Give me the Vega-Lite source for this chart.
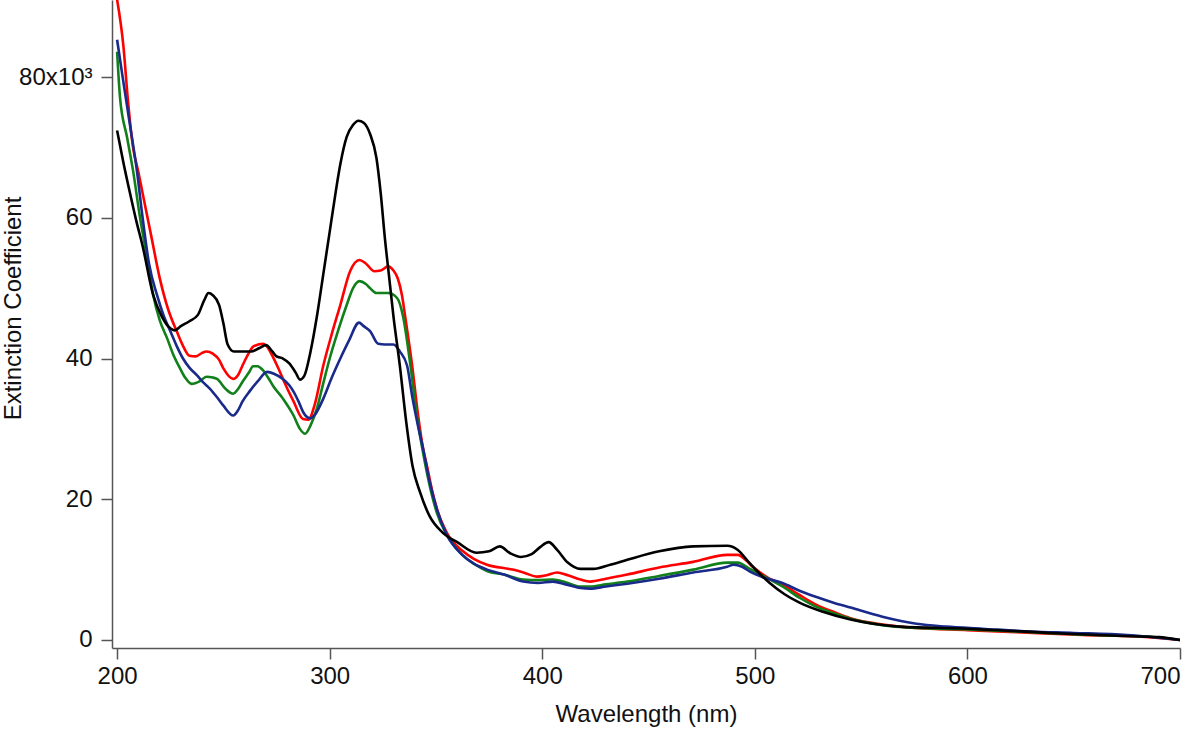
{
  "$schema": "https://vega.github.io/schema/vega-lite/v6.json",
  "width": 1068,
  "height": 648,
  "autosize": "none",
  "padding": {"left": 112, "top": 0, "right": 20, "bottom": 88},
  "background": "white",
  "config": {
    "font": "Liberation Sans",
    "view": {"stroke": null},
    "axis": {
      "grid": false,
      "domainColor": "#555555",
      "domainWidth": 1.5,
      "tickColor": "#555555",
      "tickWidth": 1.5,
      "tickSize": 11,
      "labelColor": "#111111",
      "labelFontSize": 24,
      "labelFont": "Liberation Sans",
      "titleFont": "Liberation Sans",
      "titleFontSize": 24,
      "titleFontWeight": "normal",
      "titleColor": "#111111"
    }
  },
  "datasets": {
    "black": [
      {"wl":200,"e":72400},{"wl":203,"e":67800},{"wl":206,"e":63600},{"wl":209,"e":59600},{"wl":212,"e":56000},
      {"wl":217,"e":49000},{"wl":221,"e":46000},{"wl":225,"e":44300},{"wl":227,"e":44000},{"wl":230,"e":44600},
      {"wl":234,"e":45300},{"wl":238,"e":46200},{"wl":241,"e":48300},{"wl":243,"e":49300},{"wl":245,"e":49000},
      {"wl":248,"e":47600},{"wl":250,"e":45000},{"wl":252,"e":42000},{"wl":255,"e":41000},{"wl":260,"e":41000},
      {"wl":263,"e":41000},{"wl":267,"e":41500},{"wl":270,"e":41900},{"wl":273,"e":41000},{"wl":275,"e":40300},
      {"wl":278,"e":40000},{"wl":281,"e":39300},{"wl":284,"e":38000},{"wl":286,"e":37000},{"wl":288,"e":37500},
      {"wl":291,"e":41000},{"wl":294,"e":46000},{"wl":297,"e":52000},{"wl":300,"e":58000},{"wl":303,"e":64000},
      {"wl":305,"e":67600},{"wl":308,"e":71500},{"wl":311,"e":73200},{"wl":313.5,"e":73800},{"wl":316,"e":73500},
      {"wl":319,"e":71900},{"wl":322,"e":68500},{"wl":324,"e":63500},{"wl":326,"e":57000},{"wl":328,"e":51500},
      {"wl":330,"e":46000},{"wl":333,"e":39000},{"wl":336,"e":31000},{"wl":339,"e":24700},{"wl":342.5,"e":21000},
      {"wl":347,"e":17600},{"wl":353,"e":15300},{"wl":360,"e":13900},{"wl":369,"e":12400},{"wl":375,"e":12600},
      {"wl":380,"e":13300},{"wl":385,"e":12300},{"wl":390,"e":11800},{"wl":395,"e":12200},{"wl":399,"e":13200},
      {"wl":403,"e":13900},{"wl":407,"e":12800},{"wl":412,"e":11000},{"wl":418,"e":10100},{"wl":424,"e":10100},
      {"wl":432,"e":10700},{"wl":440,"e":11400},{"wl":455,"e":12600},{"wl":471,"e":13300},{"wl":487,"e":13400},
      {"wl":492,"e":12800},{"wl":497,"e":11100},{"wl":501,"e":9800},{"wl":507,"e":8100},{"wl":514,"e":6500},
      {"wl":521,"e":5300},{"wl":532,"e":4000},{"wl":545,"e":2900},{"wl":568,"e":1900},{"wl":600,"e":1600},
      {"wl":639,"e":1000},{"wl":670,"e":600},{"wl":690,"e":400},{"wl":700,"e":0}
    ],
    "red": [
      {"wl":200,"e":91000},{"wl":203,"e":84300},{"wl":205,"e":77000},{"wl":207.5,"e":70000},{"wl":210,"e":66500},
      {"wl":212,"e":63500},{"wl":216,"e":57500},{"wl":220,"e":51500},{"wl":224,"e":47000},{"wl":228,"e":43900},
      {"wl":231,"e":41800},{"wl":234,"e":40400},{"wl":237,"e":40300},{"wl":240,"e":40800},{"wl":242,"e":41000},
      {"wl":245,"e":40700},{"wl":248,"e":39800},{"wl":250,"e":38600},{"wl":254.6,"e":37100},{"wl":257,"e":37700},
      {"wl":259,"e":39000},{"wl":262,"e":40800},{"wl":264,"e":41700},{"wl":268.7,"e":42100},{"wl":271,"e":41500},
      {"wl":273,"e":40400},{"wl":276,"e":38500},{"wl":278,"e":37100},{"wl":283,"e":33900},{"wl":287.5,"e":31400},
      {"wl":290,"e":31300},{"wl":293,"e":33500},{"wl":297,"e":39000},{"wl":301,"e":43500},{"wl":305,"e":47600},
      {"wl":309.6,"e":52400},{"wl":314,"e":54000},{"wl":317,"e":53500},{"wl":321,"e":52400},{"wl":324,"e":52500},
      {"wl":327.5,"e":53100},{"wl":330,"e":52500},{"wl":332,"e":51400},{"wl":334,"e":49000},{"wl":335.5,"e":46000},
      {"wl":338.8,"e":39000},{"wl":341.6,"e":31900},{"wl":344,"e":27100},{"wl":345.8,"e":24700},{"wl":348,"e":21500},
      {"wl":350.5,"e":18600},{"wl":355,"e":15300},{"wl":362.7,"e":12600},{"wl":368,"e":11500},{"wl":374,"e":10700},
      {"wl":386,"e":10000},{"wl":392,"e":9500},{"wl":397.5,"e":9000},{"wl":402,"e":9200},{"wl":407,"e":9600},
      {"wl":412,"e":9200},{"wl":418,"e":8600},{"wl":422.5,"e":8300},{"wl":430,"e":8700},{"wl":440,"e":9300},
      {"wl":455,"e":10300},{"wl":471,"e":11100},{"wl":487,"e":12100},{"wl":492,"e":12100},{"wl":496,"e":11300},
      {"wl":499,"e":10400},{"wl":502,"e":9700},{"wl":507,"e":8700},{"wl":513,"e":7900},{"wl":521,"e":6400},
      {"wl":529,"e":5000},{"wl":537,"e":4000},{"wl":545,"e":3100},{"wl":560,"e":2200},{"wl":576,"e":1700},
      {"wl":600,"e":1400},{"wl":623,"e":1100},{"wl":654,"e":700},{"wl":680,"e":500},{"wl":700,"e":0}
    ],
    "green": [
      {"wl":200,"e":83600},{"wl":201.4,"e":77000},{"wl":204.7,"e":71400},{"wl":207.5,"e":66700},{"wl":210.8,"e":60000},
      {"wl":214,"e":54500},{"wl":217,"e":49000},{"wl":220,"e":45500},{"wl":223.5,"e":42900},{"wl":226.5,"e":40500},
      {"wl":229.6,"e":38600},{"wl":232,"e":37300},{"wl":235,"e":36400},{"wl":239,"e":36800},{"wl":242,"e":37400},
      {"wl":245,"e":37300},{"wl":247,"e":37100},{"wl":251,"e":35700},{"wl":254.6,"e":35000},{"wl":257,"e":35700},
      {"wl":259,"e":36700},{"wl":262,"e":38000},{"wl":264,"e":38900},{"wl":266,"e":38900},{"wl":268.7,"e":38300},
      {"wl":271,"e":37300},{"wl":273.4,"e":36100},{"wl":278,"e":34300},{"wl":283,"e":31900},{"wl":286,"e":30000},
      {"wl":288.4,"e":29300},{"wl":291,"e":30500},{"wl":294,"e":32900},{"wl":297,"e":36500},{"wl":300,"e":40000},
      {"wl":304,"e":44000},{"wl":308,"e":47600},{"wl":311,"e":50000},{"wl":314,"e":51000},{"wl":317,"e":50600},
      {"wl":319,"e":50000},{"wl":322,"e":49300},{"wl":325,"e":49300},{"wl":327.5,"e":49300},{"wl":331.7,"e":48600},
      {"wl":334.5,"e":46000},{"wl":338,"e":39000},{"wl":341,"e":31900},{"wl":344,"e":26500},{"wl":347,"e":22000},
      {"wl":350.5,"e":18000},{"wl":355,"e":15000},{"wl":362,"e":12200},{"wl":368,"e":10800},{"wl":374,"e":9800},
      {"wl":382,"e":9300},{"wl":391,"e":8600},{"wl":398,"e":8500},{"wl":405,"e":8600},{"wl":411,"e":8200},
      {"wl":418,"e":7600},{"wl":422.5,"e":7600},{"wl":430,"e":7900},{"wl":440,"e":8300},{"wl":455,"e":9100},
      {"wl":471,"e":10000},{"wl":487,"e":11000},{"wl":492,"e":11000},{"wl":497,"e":10200},{"wl":502,"e":9400},
      {"wl":507,"e":8600},{"wl":513,"e":7600},{"wl":521,"e":6000},{"wl":529,"e":4700},{"wl":537,"e":3800},
      {"wl":545,"e":3000},{"wl":560,"e":2100},{"wl":576,"e":1700},{"wl":600,"e":1500},{"wl":630,"e":1100},
      {"wl":660,"e":700},{"wl":685,"e":500},{"wl":700,"e":0}
    ],
    "blue": [
      {"wl":200,"e":85300},{"wl":202.8,"e":79600},{"wl":206,"e":73300},{"wl":209.4,"e":66500},{"wl":212,"e":60000},
      {"wl":215,"e":53500},{"wl":218.8,"e":49000},{"wl":222,"e":46000},{"wl":225,"e":43900},{"wl":228,"e":41800},
      {"wl":231,"e":40000},{"wl":234,"e":38700},{"wl":237.6,"e":37600},{"wl":240.5,"e":36600},{"wl":243.7,"e":35700},
      {"wl":247,"e":34500},{"wl":250,"e":33300},{"wl":254.6,"e":31900},{"wl":257,"e":32700},{"wl":259,"e":33900},
      {"wl":262.5,"e":35400},{"wl":266,"e":36700},{"wl":270.6,"e":38100},{"wl":274,"e":37800},{"wl":278,"e":37100},
      {"wl":281,"e":36200},{"wl":283,"e":35300},{"wl":285.5,"e":33800},{"wl":287.5,"e":32400},{"wl":290.8,"e":31500},
      {"wl":293,"e":32000},{"wl":297,"e":34300},{"wl":301,"e":37300},{"wl":305,"e":40000},{"wl":309,"e":42500},
      {"wl":313.8,"e":45100},{"wl":316,"e":44600},{"wl":319,"e":43900},{"wl":322.8,"e":42100},{"wl":326,"e":42000},
      {"wl":330,"e":42000},{"wl":333,"e":41000},{"wl":336.4,"e":39000},{"wl":339,"e":34300},{"wl":341.5,"e":30500},
      {"wl":344,"e":27100},{"wl":347,"e":22500},{"wl":350.5,"e":18500},{"wl":355,"e":15000},{"wl":362,"e":12200},
      {"wl":368,"e":10800},{"wl":374,"e":10000},{"wl":382,"e":9300},{"wl":391,"e":8300},{"wl":398,"e":8100},
      {"wl":405,"e":8300},{"wl":411,"e":7900},{"wl":418,"e":7400},{"wl":422.5,"e":7300},{"wl":430,"e":7600},
      {"wl":440,"e":8000},{"wl":455,"e":8700},{"wl":471,"e":9600},{"wl":487,"e":10400},{"wl":490,"e":10700},
      {"wl":494,"e":10400},{"wl":497.7,"e":9700},{"wl":505,"e":8800},{"wl":513,"e":8100},{"wl":521,"e":7000},
      {"wl":529,"e":6100},{"wl":537,"e":5300},{"wl":545,"e":4600},{"wl":560,"e":3300},{"wl":576,"e":2300},
      {"wl":590,"e":1900},{"wl":607,"e":1600},{"wl":630,"e":1200},{"wl":650,"e":1000},{"wl":675,"e":700},
      {"wl":700,"e":0}
    ]
  },
  "encoding": {
    "x": {
      "field": "wl", "type": "quantitative",
      "scale": {"domain": [197.6, 700], "nice": false, "zero": false},
      "axis": {"values": [200, 300, 400, 500, 600, 700], "title": "Wavelength (nm)", "labelPadding": 5, "titlePadding": 14}
    },
    "y": {
      "field": "e", "type": "quantitative",
      "scale": {"domain": [-1140, 90950], "nice": false, "zero": false},
      "axis": {
        "values": [0, 20000, 40000, 60000, 80000],
        "labelExpr": "datum.value == 80000 ? '80x10³' : format(datum.value / 1000, 'd')",
        "labelPadding": 9,
        "title": "Extinction Coefficient",
        "titleX": -99,
        "titleY": 308,
        "titleBaseline": "middle"
      }
    }
  },
  "layer": [
    {"data": {"name": "red"}, "mark": {"type": "line", "color": "#ff0000", "strokeWidth": 2.6, "interpolate": "monotone", "clip": true}},
    {"data": {"name": "green"}, "mark": {"type": "line", "color": "#12801a", "strokeWidth": 2.6, "interpolate": "monotone", "clip": true}},
    {"data": {"name": "blue"}, "mark": {"type": "line", "color": "#1a2a8a", "strokeWidth": 2.6, "interpolate": "monotone", "clip": true}},
    {"data": {"name": "black"}, "mark": {"type": "line", "color": "#000000", "strokeWidth": 2.6, "interpolate": "monotone", "clip": true}}
  ]
}
